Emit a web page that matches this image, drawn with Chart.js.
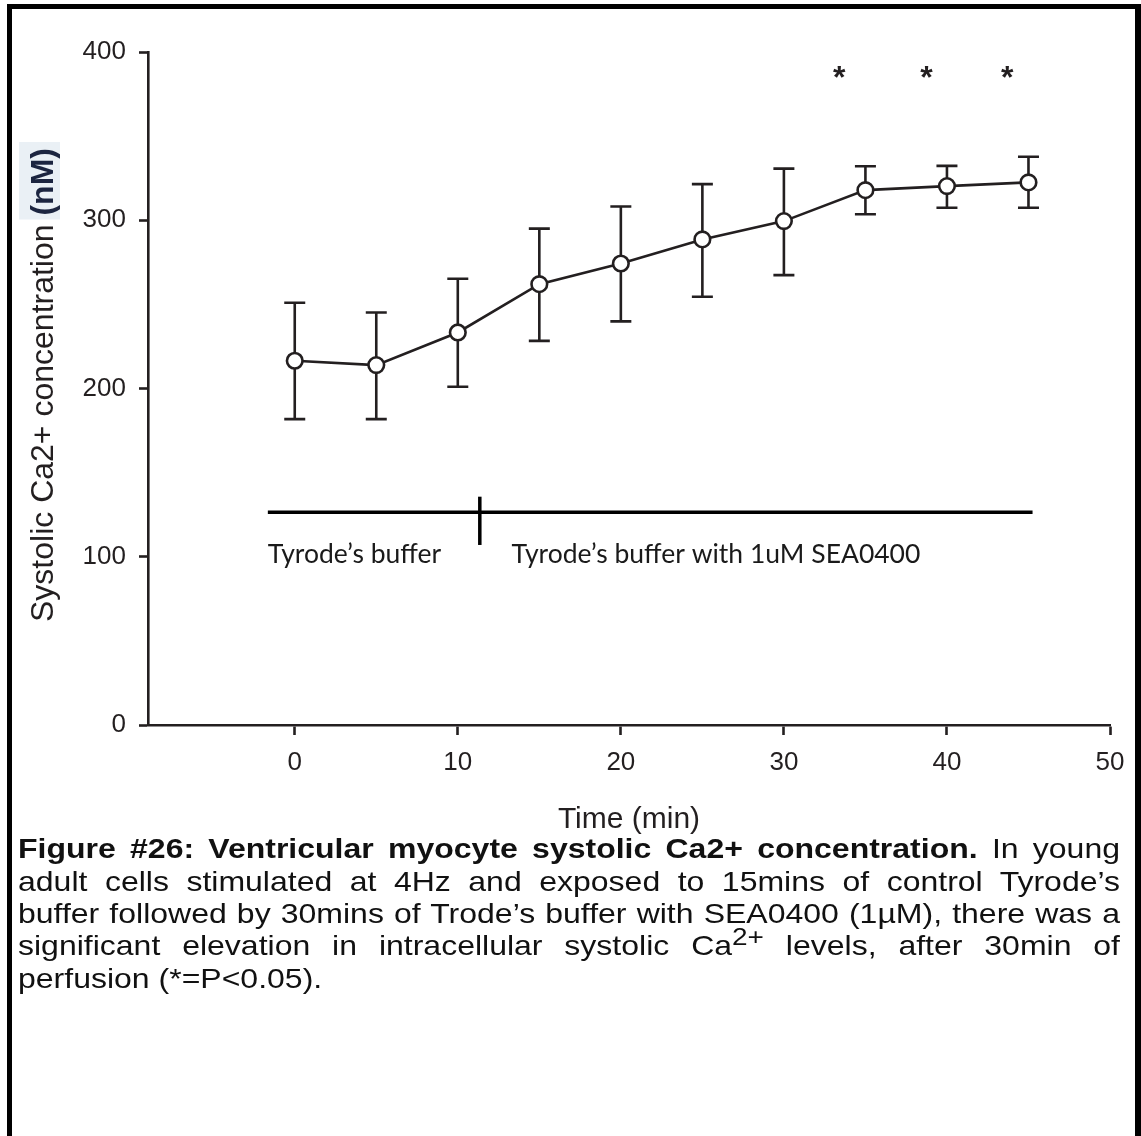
<!DOCTYPE html>
<html>
<head>
<meta charset="utf-8">
<script src="https://cdn.jsdelivr.net/npm/chart.js@4.4.0/dist/chart.umd.min.js"></script>
<style>
  body { margin: 0; background: #fff; }
  #page { position: relative; width: 1141px; height: 1136px; overflow: hidden; background: #fff; }
  #chart { position: absolute; left: 0; top: 0; }
  #frame { position: absolute; left: 7px; top: 4px; width: 1134px; height: 1132px; box-sizing: border-box;
           border-top: 5px solid #000; border-left: 5px solid #000; border-right: 6px solid #000; }
  #caption { position: absolute; left: 18px; top: 833px; width: 1102px; height: 185px;
             transform: scaleY(0.873); transform-origin: 0 0; }
  .cap { position: absolute; left: 0; width: 1102px; height: 37px; line-height: 37px;
         font-family: Arial, "Liberation Sans", sans-serif; font-size: 32px; color: #111;
         text-align: justify; text-align-last: justify; }
  .cap.last { text-align: left; text-align-last: left; }
  .cap sup { font-size: 28px; line-height: 0; vertical-align: 12px; }
</style>
</head>
<body>
<div id="page">
  <canvas id="chart" width="1141" height="840"></canvas>
  <div id="caption">
    <div class="cap" style="top:0px"><b>Figure #26: Ventricular myocyte systolic Ca2+ concentration.</b> In young</div>
    <div class="cap" style="top:37px">adult cells stimulated at 4Hz and exposed to 15mins of control Tyrode’s</div>
    <div class="cap" style="top:74px">buffer followed by 30mins of Trode’s buffer with SEA0400 (1µM), there was a</div>
    <div class="cap" style="top:111px">significant elevation in intracellular systolic Ca<sup>2+</sup> levels, after 30min of</div>
    <div class="cap last" style="top:148px">perfusion (*=P&lt;0.05).</div>
  </div>
  <div id="frame"></div>
</div>
<script>
var times = [0, 5, 10, 15, 20, 25, 30, 35, 40, 45];
var meanCa = [216.5, 213.9, 233.3, 262, 274.3, 288.6, 299.5, 317.9, 320.3, 322.5];
var errHigh = [251, 245.2, 265.2, 295, 308.2, 321.5, 330.7, 332.1, 332.3, 337.7];
var errLow = [181.8, 181.8, 201, 228.3, 239.9, 254.5, 267.4, 303.6, 307.4, 307.4];
var xTicks = [0, 10, 20, 30, 40, 50];
var yTicks = [0, 100, 200, 300, 400];

// significance stars
var sigX = [33.4, 38.75, 43.7];
var sigY = 387;

// perfusion bar under the curve
var bufferLineX = [-1.65, 45.25];
var bufferLineY = 126.5;
var switchX = 11.35;
var switchY = [107, 135.7];
var bufferLabels = ['Tyrode’s buffer', 'Tyrode’s buffer with 1uM SEA0400'];
var bufferLabelX = [-1.65, 13.3];
var bufferLabelY = 96.5;

var ink = '#231f20';
var arial = 'Arial, "Liberation Sans", sans-serif';

var extras = {
  id: 'extras',
  beforeDatasetsDraw: function(chart) {
    var ctx = chart.ctx, xs = chart.scales.x, ys = chart.scales.y;
    ctx.save();
    ctx.strokeStyle = ink;
    ctx.lineWidth = 2.6;
    for (var i = 0; i < times.length; i++) {
      var px = xs.getPixelForValue(times[i]);
      var top = ys.getPixelForValue(errHigh[i]);
      var bot = ys.getPixelForValue(errLow[i]);
      ctx.beginPath();
      ctx.moveTo(px, top); ctx.lineTo(px, bot);
      ctx.moveTo(px - 10.5, top); ctx.lineTo(px + 10.5, top);
      ctx.moveTo(px - 10.5, bot); ctx.lineTo(px + 10.5, bot);
      ctx.stroke();
    }
    ctx.restore();
  },
  afterDraw: function(chart) {
    var ctx = chart.ctx, xs = chart.scales.x, ys = chart.scales.y;
    ctx.save();

    // stars
    ctx.fillStyle = ink;
    ctx.font = 'bold 32px ' + arial;
    ctx.textAlign = 'center';
    ctx.textBaseline = 'alphabetic';
    sigX.forEach(function(x) {
      ctx.fillText('*', xs.getPixelForValue(x), ys.getPixelForValue(sigY) + 14);
    });

    // buffer labels
    ctx.fillStyle = '#1a1a1a';
    ctx.font = '26.5px Lato, sans-serif';
    ctx.textAlign = 'left';
    bufferLabels.forEach(function(t, i) {
      ctx.fillText(t, xs.getPixelForValue(bufferLabelX[i]), ys.getPixelForValue(bufferLabelY));
    });

    // y axis title, two styles
    var part1 = 'Systolic Ca2+ concentration ';
    ctx.font = '32px ' + arial;
    var w1 = ctx.measureText(part1).width;
    ctx.font = 'bold 32px ' + arial;
    var w2 = ctx.measureText('(nM)').width;
    var cy = 385;
    ctx.translate(53, cy + (w1 + w2) / 2);
    ctx.rotate(-Math.PI / 2);
    ctx.fillStyle = '#eaf0f5';
    ctx.fillRect(w1 - 4, -34, w2 + 10, 41);
    ctx.font = '32px ' + arial;
    ctx.fillStyle = ink;
    ctx.fillText(part1, 0, 0);
    ctx.font = 'bold 32px ' + arial;
    ctx.fillStyle = '#1c2540';
    ctx.fillText('(nM)', w1, 0);
    ctx.restore();
  }
};

new Chart(document.getElementById('chart'), {
  type: 'line',
  data: {
    datasets: [{
      data: times.map(function(t, i) { return {x: t, y: meanCa[i]}; }),
      borderColor: ink,
      borderWidth: 2.6,
      pointRadius: 7.8,
      pointBackgroundColor: '#fff',
      pointBorderColor: ink,
      pointBorderWidth: 2.6,
      tension: 0
    }, {
      data: bufferLineX.map(function(x) { return {x: x, y: bufferLineY}; }),
      borderColor: '#000',
      borderWidth: 3.5,
      pointRadius: 0
    }, {
      data: switchY.map(function(y) { return {x: switchX, y: y}; }),
      borderColor: '#000',
      borderWidth: 3.5,
      pointRadius: 0
    }]
  },
  options: {
    responsive: false,
    animation: false,
    devicePixelRatio: 1,
    layout: { padding: { top: 52, right: 31, left: 0, bottom: 0 } },
    plugins: { legend: { display: false }, tooltip: { enabled: false } },
    scales: {
      x: {
        type: 'linear', min: -9, max: 50,
        afterBuildTicks: function(s) { s.ticks = xTicks.map(function(v) { return {value: v}; }); },
        afterFit: function(s) { s.height = 115; },
        border: { color: ink, width: 2.6 },
        grid: { drawOnChartArea: false, drawTicks: true, tickLength: 10, tickWidth: 2.6, tickColor: ink },
        ticks: { color: ink, font: { family: arial, size: 26 }, padding: 12, maxRotation: 0 },
        title: { display: true, text: 'Time (min)', color: ink, font: { family: arial, size: 30 }, padding: { top: 0, bottom: 2 } }
      },
      y: {
        min: 0, max: 400,
        afterBuildTicks: function(s) { s.ticks = yTicks.map(function(v) { return {value: v}; }); },
        afterFit: function(s) { s.width = 148; },
        border: { color: ink, width: 2.6 },
        grid: { drawOnChartArea: false, drawTicks: true, tickLength: 9, tickWidth: 2.6, tickColor: ink },
        ticks: { color: ink, font: { family: arial, size: 26 }, padding: 13 }
      }
    }
  },
  plugins: [extras]
});
</script>
</body>
</html>
